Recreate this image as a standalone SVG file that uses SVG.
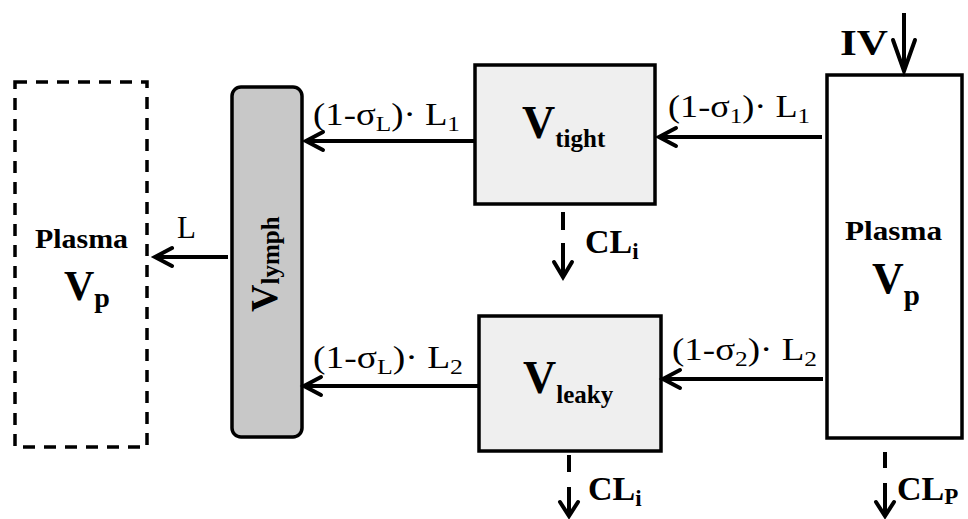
<svg xmlns="http://www.w3.org/2000/svg" width="968" height="519" viewBox="0 0 968 519">
<style>
.box{stroke:#000;stroke-width:3.5}
.ln{stroke:#000;stroke-width:4;fill:none;stroke-linecap:butt}
.hd{stroke:#000;stroke-width:4;fill:none;stroke-linecap:round;stroke-linejoin:miter}
.b{font-family:"Liberation Serif","Times New Roman",serif;font-weight:bold;fill:#000}
.r{font-family:"Liberation Serif","Times New Roman",serif;fill:#000}
</style>
<rect width="968" height="519" fill="#fff"/>

<g id="plasma-left">
<rect x="15" y="82" width="132" height="365" fill="#fff" stroke="#000" stroke-width="3.5" stroke-dasharray="12,9"/>
<text class="b" x="35" y="248" font-size="28" textLength="93" lengthAdjust="spacingAndGlyphs">Plasma</text>
<text class="b" x="64" y="300" font-size="42">V<tspan font-size="28" dy="7">p</tspan></text>
</g>

<g id="vlymph">
<rect class="box" x="232" y="87" width="70" height="350" rx="9" fill="#c8c8c8"/>
<text class="b" transform="translate(277,312) rotate(-90)" font-size="38">V<tspan font-size="25" dy="2">lymph</tspan></text>
</g>

<g id="vtight">
<rect class="box" x="475" y="65" width="180" height="139" fill="#efefef"/>
<text class="b" x="522" y="138" font-size="46">V<tspan font-size="25" dy="9">tight</tspan></text>
</g>

<g id="vleaky">
<rect class="box" x="479" y="316" width="182" height="135" fill="#efefef"/>
<text class="b" x="523" y="393" font-size="46">V<tspan font-size="25" dy="10">leaky</tspan></text>
</g>

<g id="plasma-right">
<rect class="box" x="827" y="75" width="135" height="363" fill="#fff"/>
<text class="b" x="845" y="240" font-size="28" textLength="97" lengthAdjust="spacingAndGlyphs">Plasma</text>
<text class="b" x="872" y="293" font-size="44">V<tspan font-size="29" dy="12">p</tspan></text>
</g>

<g id="connectors">
<!-- IV dose -->
<line class="ln" x1="904" y1="13" x2="904" y2="70"/>
<path class="hd" d="M893,40 L904,71 L915,40" stroke-width="5"/>
<text class="b" x="840" y="55" font-size="36" textLength="48" lengthAdjust="spacingAndGlyphs">IV</text>

<!-- plasma -> tight -->
<line class="ln" x1="822" y1="137" x2="660" y2="137"/>
<path class="hd" d="M676,128 L659,137 L676,146"/>
<text class="r" x="668" y="117" font-size="32" textLength="142" lengthAdjust="spacingAndGlyphs">(1-σ<tspan font-size="22" dy="6">1</tspan><tspan dy="-6">)· L</tspan><tspan font-size="22" dy="6">1</tspan></text>

<!-- plasma -> leaky -->
<line class="ln" x1="823" y1="379" x2="664" y2="379"/>
<path class="hd" d="M680,370 L663,379 L680,388"/>
<text class="r" x="672" y="360" font-size="32" textLength="145" lengthAdjust="spacingAndGlyphs">(1-σ<tspan font-size="22" dy="6">2</tspan><tspan dy="-6">)· L</tspan><tspan font-size="22" dy="6">2</tspan></text>

<!-- tight -> lymph -->
<line class="ln" x1="475" y1="141" x2="307" y2="141"/>
<path class="hd" d="M323,132 L306,141 L323,150"/>
<text class="r" x="313" y="125" font-size="32" textLength="147" lengthAdjust="spacingAndGlyphs">(1-σ<tspan font-size="22" dy="6">L</tspan><tspan dy="-6">)· L</tspan><tspan font-size="22" dy="6">1</tspan></text>

<!-- leaky -> lymph -->
<line class="ln" x1="479" y1="386" x2="305" y2="386"/>
<path class="hd" d="M321,377 L304,386 L321,395"/>
<text class="r" x="313" y="368" font-size="32" textLength="150" lengthAdjust="spacingAndGlyphs">(1-σ<tspan font-size="22" dy="6">L</tspan><tspan dy="-6">)· L</tspan><tspan font-size="22" dy="6">2</tspan></text>

<!-- lymph -> plasma -->
<line class="ln" x1="228" y1="257" x2="156" y2="257"/>
<path class="hd" d="M172,248 L155,257 L172,266"/>
<text class="r" x="177" y="238" font-size="31">L</text>

<!-- CLi tight -->
<line class="ln" x1="563" y1="212" x2="563" y2="230"/>
<line class="ln" x1="563" y1="243" x2="563" y2="276"/>
<path class="hd" d="M554,262 L563,277 L572,262" stroke-width="3.5"/>
<text class="b" x="585" y="253" font-size="34">CL<tspan font-size="23" dy="6">i</tspan></text>

<!-- CLi leaky -->
<line class="ln" x1="569" y1="455" x2="569" y2="472"/>
<line class="ln" x1="569" y1="487" x2="569" y2="516"/>
<path class="hd" d="M560,502 L569,516 L578,502" stroke-width="3.5"/>
<text class="b" x="588" y="500" font-size="34">CL<tspan font-size="23" dy="6">i</tspan></text>

<!-- CLp -->
<line class="ln" x1="885" y1="452" x2="885" y2="468"/>
<line class="ln" x1="885" y1="483" x2="885" y2="516"/>
<path class="hd" d="M876,502 L885,516 L894,502" stroke-width="3.5"/>
<text class="b" x="897" y="500" font-size="34">CL<tspan font-size="23" dy="4">P</tspan></text>
</g>
</svg>
